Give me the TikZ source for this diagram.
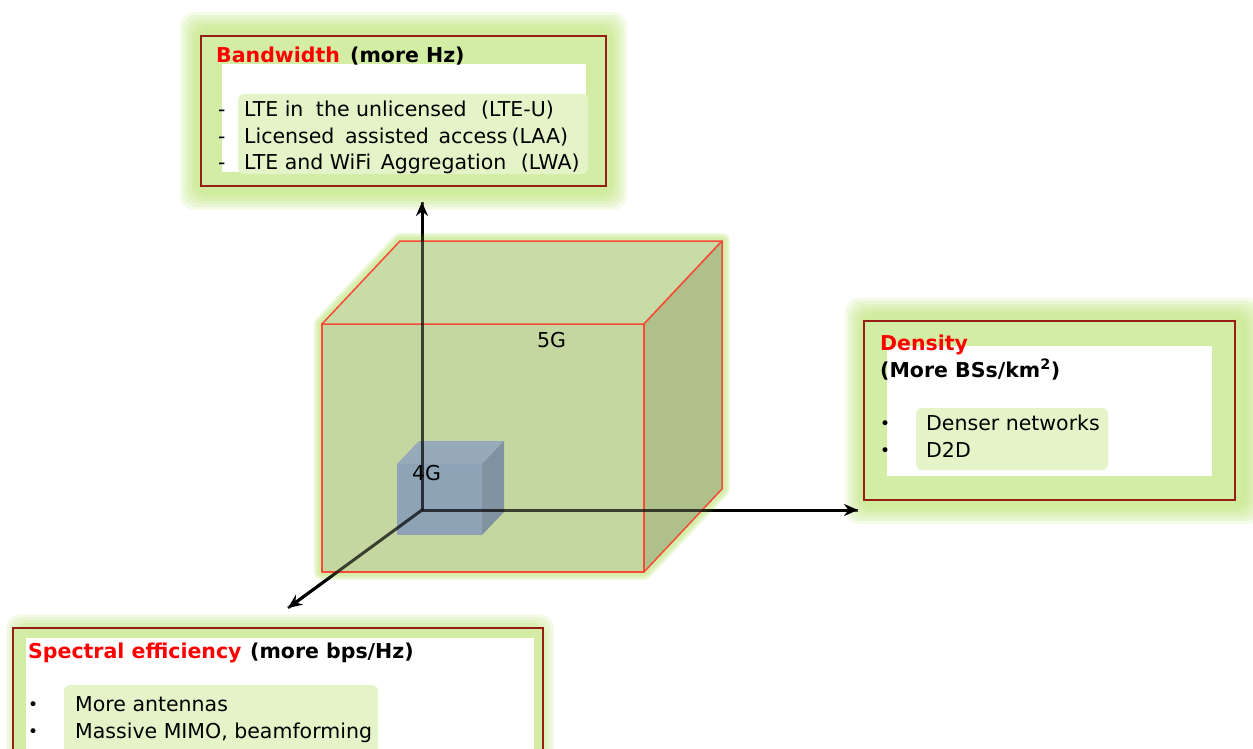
\documentclass[tikz,border=0pt]{standalone}
\usepackage{fontspec}
\setmainfont{DejaVu Sans}
\usetikzlibrary{arrows.meta}
\definecolor{titlered}{RGB}{255,0,0}
\definecolor{boxedge}{RGB}{150,30,20}
\definecolor{glowc}{RGB}{185,226,112}
\definecolor{glowin}{RGB}{212,237,165}
\definecolor{halo}{RGB}{228,244,200}
\definecolor{cubefront}{RGB}{196,215,160}
\definecolor{cubetop}{RGB}{201,219,166}
\definecolor{cuberight}{RGB}{176,192,138}
\definecolor{cubeedge}{RGB}{245,75,55}
\definecolor{smallc}{RGB}{122,143,190}
\newcommand\myglow[4]{%
  \foreach \k in {0,...,5}{%
    \pgfmathsetmacro\ax{#1+3*\k}\pgfmathsetmacro\ay{#2+3*\k}%
    \pgfmathsetmacro\bx{#3-3*\k}\pgfmathsetmacro\by{#4-3*\k}%
    \fill[glowc, opacity=0.17, rounded corners=14pt] (\ax,\ay) rectangle (\bx,\by);}}
\begin{document}
\begin{tikzpicture}[x=1pt,y=-1pt,
  txt/.style={inner sep=0pt, anchor=base west, font=\fontsize{20.5}{24}\selectfont},
  bul/.style={inner sep=0pt, anchor=base west, font=\fontsize{17}{17}\selectfont},
  redbox/.style={draw=boxedge, line width=1.3pt, fill=glowin},
  axis/.style={line width=3pt, black},
  axisarrow/.style={axis, -{Stealth[length=14pt,width=12pt]}},
  bigface/.style={draw=cubeedge, line width=1.5pt, line join=round},
  smallface/.style={fill=smallc, fill opacity=0.72, draw=none}
]
\useasboundingbox (0,0) rectangle (1253,749);

% ---------- glow boxes ----------
% Bandwidth
\myglow{180}{12}{627}{210}
\draw[redbox] (201,36) rectangle (606,186);
\fill[white] (222,64) rectangle (586,172);
\fill[halo, rounded corners=6pt] (238,94) rectangle (588,174);
% Density
\myglow{845}{298}{1262}{524}
\draw[redbox] (864,321) rectangle (1235,500);
\fill[white] (887,346) rectangle (1212,476);
\fill[halo, rounded corners=6pt] (916,408) rectangle (1108,470);
% Spectral efficiency
\myglow{6}{614}{554}{790}
\draw[redbox] (13,628) rectangle (543,770);
\fill[white] (26,638) rectangle (534,765);
\fill[halo, rounded corners=6pt] (64,685) rectangle (378,765);

% ---------- coordinates ----------
\coordinate (O) at (422,510);
\coordinate (Ytip) at (422,202);
\coordinate (Xtip) at (858,510);
\coordinate (Ztip) at (288,608);
% big cube
\coordinate (F1) at (322,324);
\coordinate (F2) at (644,324);
\coordinate (F3) at (644,572);
\coordinate (F4) at (322,572);
\coordinate (B1) at (400,241);
\coordinate (B2) at (722,241);
\coordinate (B3) at (722,489);
% small cube
\coordinate (s1) at (397,464);
\coordinate (s2) at (482,464);
\coordinate (s3) at (482,535);
\coordinate (s4) at (397,535);
\coordinate (t1) at (419,441);
\coordinate (t2) at (504,441);
\coordinate (t3) at (504,512);

% ---------- axes (under) ----------
\draw[axisarrow] (O) -- (Ytip);
\draw[axisarrow] (O) -- (Xtip);
\draw[axisarrow] (O) -- (Ztip);

% ---------- cube glow ----------
\foreach \w in {16,12,8}{
  \draw[glowc, line width=\w pt, line join=round, opacity=0.25]
    (F1) -- (B1) -- (B2) -- (B3) -- (F3) -- (F4) -- cycle;}

% ---------- big cube ----------
\filldraw[bigface, fill=cubefront] (F1) -- (F2) -- (F3) -- (F4) -- cycle;
\filldraw[bigface, fill=cubetop] (F1) -- (B1) -- (B2) -- (F2) -- cycle;
\filldraw[bigface, fill=cuberight] (F2) -- (B2) -- (B3) -- (F3) -- cycle;

% ---------- small cube ----------
\fill[smallface] (s1) -- (s2) -- (s3) -- (s4) -- cycle;
\fill[smallface, fill=smallc!90!white] (s1) -- (t1) -- (t2) -- (s2) -- cycle;
\fill[smallface, fill=smallc!85!black] (s2) -- (t2) -- (t3) -- (s3) -- cycle;

% ---------- axes seen through the cube ----------
\draw[axis, draw opacity=0.7] (O) -- (Ytip);
\draw[axis, draw opacity=0.7] (O) -- (Xtip);
\draw[axis, draw opacity=0.7] (O) -- (Ztip);

% cube labels
\node[txt] (l5G) at (537,347) {5G};
\node[txt] (l4G) at (412,480) {4G};

% ---------- texts: Bandwidth ----------
\node[txt] (bwT) at (216,63) {\bfseries\textcolor{titlered}{Bandwidth}};
\node[txt] (bwH) at (350,63) {\bfseries (more Hz)};
\node[txt] (bwd1) at (218,117) {-};
\node[txt] (bwd2) at (218,143) {-};
\node[txt] (bwd3) at (218,170) {-};
\node[txt] (bw1) at (244,117) {LTE in\hspace{6pt} the unlicensed\hspace{8pt} (LTE-U)};
\node[txt] (bw2) at (244,143) {Licensed\hspace{4pt} assisted\hspace{3pt} access\hspace{4pt}(LAA)};
\node[txt] (bw3) at (244,170) {LTE and WiFi\hspace{3pt} Aggregation\hspace{8pt} (LWA)};

% ---------- texts: Density ----------
\node[txt] (deT) at (880,350) {\bfseries\textcolor{titlered}{Density}};
\node[txt] (deS) at (880,377) {\bfseries (More BSs/km\textsuperscript{2})};
\node[bul] (deb1) at (880,429) {•};
\node[bul] (deb2) at (880,456) {•};
\node[txt] (de1) at (926,430) {Denser networks};
\node[txt] (de2) at (926,457) {D2D};

% ---------- texts: Spectral efficiency ----------
\node[txt] (seT) at (28,658) {\bfseries\textcolor{titlered}{Spectral efficiency}};
\node[txt] (seH) at (250,658) {\bfseries (more bps/Hz)};
\node[bul] (seb1) at (28,710) {•};
\node[bul] (seb2) at (28,737) {•};
\node[txt] (se1) at (75,711) {More antennas};
\node[txt] (se2) at (75,738) {Massive MIMO, beamforming};
\end{tikzpicture}
\end{document}
